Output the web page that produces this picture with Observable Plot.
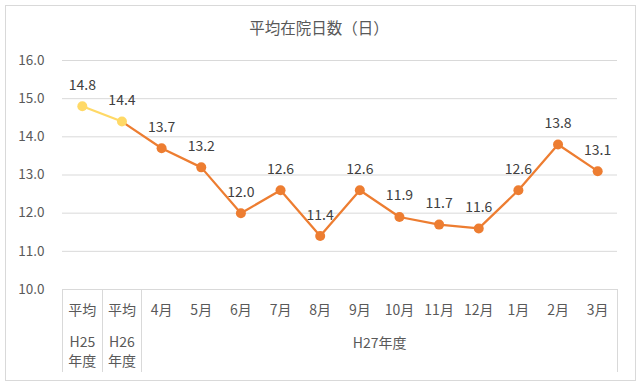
<!DOCTYPE html>
<html>
<head>
<meta charset="utf-8">
<script src="https://cdn.jsdelivr.net/npm/d3@7"></script>
<script src="https://cdn.jsdelivr.net/npm/@observablehq/plot@0.6"></script>
<style>
  html, body { margin: 0; padding: 0; background: #fff; }
  #wrap { position: relative; width: 638px; height: 383px; font-family: "Noto Sans CJK JP", "Noto Sans", sans-serif; }
  #border { position: absolute; left: 5px; top: 5px; width: 629px; height: 374px; border: 1px solid #d9d9d9; pointer-events: none; }
  #title { height: 40px; line-height: 40px; padding-top: 7px; box-sizing: border-box; text-align: center; font-size: 15.5px; color: #595959; }
  svg { display: block; }
</style>
</head>
<body>
<div id="wrap">
  <div id="title">平均在院日数（日）</div>
  <div id="chart"></div>
  <div id="border"></div>
</div>
<script>
// ---- data ----
const categories = ["H25", "H26", "4月", "5月", "6月", "7月", "8月", "9月", "10月", "11月", "12月", "1月", "2月", "3月"];
const row1Labels = ["平均", "平均", "4月", "5月", "6月", "7月", "8月", "9月", "10月", "11月", "12月", "1月", "2月", "3月"];
const row2Labels = ["H25", "H26"];
const row3Labels = ["年度", "年度"];
const groupLabel = "H27年度";
const values = [14.8, 14.4, 13.7, 13.2, 12.0, 12.6, 11.4, 12.6, 11.9, 11.7, 11.6, 12.6, 13.8, 13.1];
const yTicks = [10, 11, 12, 13, 14, 15, 16];

const ORANGE = "#ED7D31";
const YELLOW = "#FFD966";

const data = categories.map((c, i) => ({cat: c, value: values[i], avg: i < 2}));
const yellowLine = data.slice(0, 2);
const orangeLine = data.slice(1);

const W = 638, H = 343;
const mL = 62, mR = 21, mT = 20, mB = 94;
const bw = (W - mL - mR) / categories.length;

// separators of the category axis box
const separators = (index, scales, values, dims) => {
  const g = d3.create("svg:g").attr("stroke", "#d9d9d9").attr("stroke-width", 1);
  const x = scales.x, y0 = scales.y(10);
  const xs = [x("H25"), x("H26"), x("4月"), x("3月") + x.bandwidth()];
  for (const xv of xs) {
    g.append("line").attr("x1", Math.round(xv) + 0.5).attr("x2", Math.round(xv) + 0.5)
      .attr("y1", y0).attr("y2", dims.height - 11);
  }
  return g.node();
};

const chart = Plot.plot({
  width: W,
  height: H,
  marginLeft: mL,
  marginRight: mR,
  marginTop: mT,
  marginBottom: mB,
  style: {fontFamily: "'Noto Sans CJK JP', 'Noto Sans', sans-serif", background: "#fff", overflow: "visible"},
  x: {type: "band", domain: categories, padding: 0, round: false, axis: null},
  y: {domain: [10, 16], ticks: yTicks, axis: null},
  marks: [
    Plot.ruleY(yTicks, {stroke: "#d9d9d9", strokeWidth: 1}),
    separators,
    Plot.text(yTicks, {y: d => d, text: d => d.toFixed(1), frameAnchor: "left", textAnchor: "end", dx: -18, fill: "#595959", fontSize: 13.5}),
    Plot.line(orangeLine, {x: "cat", y: "value", stroke: ORANGE, strokeWidth: 2.25}),
    Plot.line(yellowLine, {x: "cat", y: "value", stroke: YELLOW, strokeWidth: 2.25}),
    Plot.dot(data, {x: "cat", y: "value", r: 5, fill: d => d.avg ? YELLOW : ORANGE, stroke: "none"}),
    Plot.text(data, {x: "cat", y: "value", text: d => d.value.toFixed(1), dy: -21, fill: "#404040", fontSize: 14}),
    Plot.text(categories, {x: d => d, y: () => 10, text: (d, i) => row1Labels[i], dy: 21, fill: "#595959", fontSize: 14}),
    Plot.text(categories.slice(0, 2), {x: d => d, y: () => 10, text: (d, i) => row2Labels[i], dy: 53, fill: "#595959", fontSize: 14}),
    Plot.text(categories.slice(0, 2), {x: d => d, y: () => 10, text: (d, i) => row3Labels[i], dy: 72.5, fill: "#595959", fontSize: 14}),
    Plot.text([groupLabel], {x: () => "9月", y: () => 10, text: d => d, dx: bw / 2, dy: 54, fill: "#595959", fontSize: 14})
  ]
});
document.getElementById("chart").appendChild(chart);
</script>
</body>
</html>
